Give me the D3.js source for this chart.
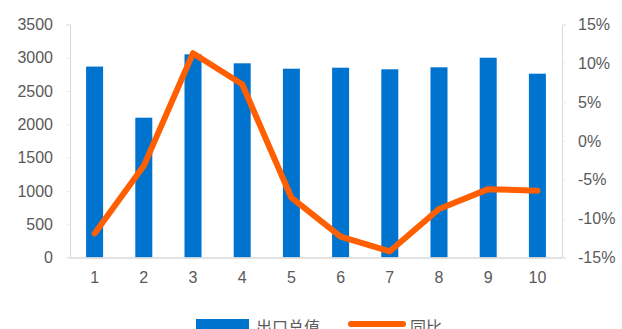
<!DOCTYPE html>
<html><head><meta charset="utf-8">
<script src="https://cdn.jsdelivr.net/npm/d3@7"></script>
<style>
body{margin:0;background:#fff;}
svg{display:block;font-family:"Liberation Sans",Arial,sans-serif;}
</style></head>
<body><svg id="c" width="622" height="329"></svg>
<script>
// Monthly export totals and year-on-year change
const months = ["1","2","3","4","5","6","7","8","9","10"];
const exportValue = [2868, 2100, 3052, 2917, 2836, 2851, 2827, 2857, 3001, 2761];
const yoyPct = [-11.9, -3.2, 11.3, 7.3, -7.3, -12.3, -14.2, -8.75, -6.2, -6.4];
const leftTicks = [0, 500, 1000, 1500, 2000, 2500, 3000, 3500];
const rightTicks = [-15, -10, -5, 0, 5, 10, 15];
const seriesNames = ["出口总值", "同比"];

const svg = d3.select("#c");
const m = {left: 70, right: 562, top: 24.5, bottom: 257.5};

const x = d3.scaleBand().domain(months).range([m.left, m.right]);
const yL = d3.scaleLinear().domain([0, 3500]).range([m.bottom, m.top]);
const yR = d3.scaleLinear().domain([-15, 15]).range([m.bottom, m.top]);

const axisColor = "#d9d9d9", textColor = "#595959";

// left axis
const gL = svg.append("g").attr("transform", `translate(${m.left},0)`)
  .call(d3.axisLeft(yL).tickValues(leftTicks).tickSize(4).tickPadding(13).tickFormat(d3.format("d")));
// right axis
const gR = svg.append("g").attr("transform", `translate(${m.right},0)`)
  .call(d3.axisRight(yR).tickValues(rightTicks).tickSize(4).tickPadding(12).tickFormat(d => d + "%"));
[gL, gR].forEach(g => {
  g.select(".domain").attr("stroke", axisColor);
  g.selectAll(".tick line").attr("stroke", "#ececec");
  g.selectAll("text").attr("fill", textColor).style("font-size", "16px");
});

// bars
const bw = 17;
svg.append("g").selectAll("rect").data(exportValue).join("rect")
  .attr("x", (d, i) => x(months[i]) + x.bandwidth() / 2 - bw / 2)
  .attr("width", bw)
  .attr("y", d => yL(d))
  .attr("height", d => yL(0) - yL(d))
  .attr("fill", "#0073CF");

// bottom axis
const gB = svg.append("g").attr("transform", `translate(0,${m.bottom})`)
  .call(d3.axisBottom(x).tickSize(0).tickPadding(14));
gB.select(".domain").attr("stroke", axisColor).attr("stroke-width", 1.5);
gB.selectAll("text").attr("fill", textColor).style("font-size", "16px");

// yoy line
const line = d3.line()
  .x((d, i) => x(months[i]) + x.bandwidth() / 2)
  .y(d => yR(d));
svg.append("path").datum(yoyPct)
  .attr("d", line)
  .attr("fill", "none")
  .attr("stroke", "#FF5F00")
  .attr("stroke-width", 6)
  .attr("stroke-linejoin", "round")
  .attr("stroke-linecap", "round");

// legend
const lg = svg.append("g");
lg.append("rect").attr("x", 196).attr("y", 319).attr("width", 53).attr("height", 14).attr("fill", "#0073CF");
lg.append("text").attr("x", 256).attr("y", 333).text(seriesNames[0])
  .attr("fill", textColor).style("font-size", "16px").style("font-family", "'Noto Sans CJK SC'");
lg.append("line").attr("x1", 351).attr("x2", 403).attr("y1", 324).attr("y2", 324)
  .attr("stroke", "#FF5F00").attr("stroke-width", 6).attr("stroke-linecap", "round");
lg.append("text").attr("x", 410).attr("y", 333).text(seriesNames[1])
  .attr("fill", textColor).style("font-size", "16px").style("font-family", "'Noto Sans CJK SC'");
</script></body></html>
